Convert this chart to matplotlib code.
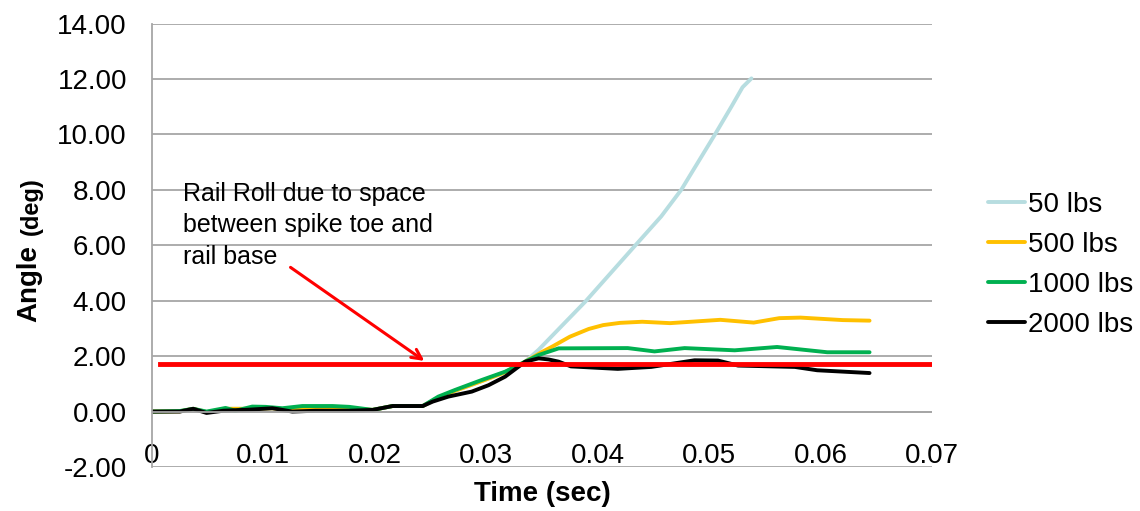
import matplotlib
matplotlib.use('Agg')
import matplotlib.pyplot as plt
from matplotlib.ticker import FuncFormatter

plt.rcParams['font.family'] = ['Liberation Sans', 'DejaVu Sans']

# time (sec) / angle (deg)
t_50 = [0, 0.0025, 0.0037, 0.0049, 0.0066, 0.0088, 0.0108, 0.0126, 0.0147, 0.0177,
        0.0198, 0.0216, 0.0243, 0.0257, 0.0272, 0.0296, 0.0317, 0.0335, 0.0347,
        0.0389, 0.0433, 0.0457, 0.0475, 0.0505, 0.0520, 0.0530, 0.0538]
a_50 = [0, 0.01, 0.1, -0.02, 0.1, 0.1, 0.12, 0.05, 0.1, 0.1,
        0.06, 0.2, 0.2, 0.5, 0.75, 1.1, 1.42, 1.8, 2.23,
        3.97, 5.96, 7.04, 8.0, 9.98, 11.0, 11.7, 12.02]

t_500 = [0, 0.0025, 0.0037, 0.0049, 0.0066, 0.0088, 0.0108, 0.0126, 0.0147, 0.0177,
         0.0198, 0.0216, 0.0243, 0.0257, 0.0272, 0.0296, 0.0317, 0.0335, 0.0350,
         0.0360, 0.0375, 0.0392, 0.0405, 0.0420, 0.0440, 0.0465, 0.0510, 0.0540,
         0.0563, 0.0582, 0.0620, 0.0644]
a_500 = [0, 0.01, 0.1, -0.02, 0.1, 0.1, 0.12, 0.05, 0.12, 0.12,
         0.06, 0.2, 0.2, 0.5, 0.75, 1.1, 1.42, 1.8, 2.15,
         2.36, 2.7, 2.98, 3.12, 3.2, 3.24, 3.19, 3.31, 3.21,
         3.37, 3.39, 3.3, 3.28]

t_1000 = [0, 0.0025, 0.0037, 0.0049, 0.0066, 0.0075, 0.009, 0.0102, 0.0117, 0.0135,
          0.0162, 0.0177, 0.0198, 0.0216, 0.0243, 0.0257, 0.0272, 0.0296, 0.0317,
          0.0335, 0.0347, 0.0365, 0.0427, 0.0451, 0.0478, 0.0523, 0.0561, 0.0606,
          0.0644]
a_1000 = [0, 0.02, 0.1, 0.0, 0.13, 0.03, 0.18, 0.17, 0.12, 0.2,
          0.2, 0.17, 0.06, 0.2, 0.2, 0.54, 0.78, 1.14, 1.44,
          1.8, 2.04, 2.28, 2.29, 2.17, 2.29, 2.21, 2.33, 2.14,
          2.14]

t_2000 = [0, 0.0025, 0.0037, 0.0049, 0.0064, 0.0088, 0.0108, 0.0126, 0.0147, 0.0177,
          0.0198, 0.0216, 0.0243, 0.0252, 0.0266, 0.0287, 0.0302, 0.0317, 0.0329,
          0.0335, 0.0347, 0.0356, 0.0365, 0.0376, 0.0418, 0.0448, 0.0487, 0.0508,
          0.0526, 0.0577, 0.0597, 0.0644]
a_2000 = [0, 0.0, 0.1, -0.05, 0.03, 0.07, 0.12, 0.0, 0.03, 0.03,
          0.06, 0.2, 0.2, 0.36, 0.54, 0.72, 0.95, 1.26, 1.62,
          1.8, 1.92, 1.88, 1.8, 1.63, 1.54, 1.61, 1.85, 1.84,
          1.66, 1.61, 1.49, 1.39]

labels = ['50 lbs', '500 lbs', '1000 lbs', '2000 lbs']
colors = ['#B7DDE0', '#FFC000', '#00B050', '#000000']

roll_level = 1.72
note = 'Rail Roll due to space\nbetween spike toe and\nrail base'

fig = plt.figure(figsize=(11.4, 5.11), dpi=100)
ax = fig.add_axes([0.1333, 0.0861, 0.6842, 0.8679])

series = [(t_50, a_50), (t_500, a_500), (t_1000, a_1000), (t_2000, a_2000)]
for (t, a), lab, c in zip(series, labels, colors):
    ax.plot(t, a, color=c, lw=2.8, label=lab, solid_capstyle='round',
            solid_joinstyle='round')

ax.plot([0.0007, 0.07], [roll_level, roll_level], color='#FF0000', lw=3.5, zorder=5)
ax.annotate('', xy=(0.02465, 1.77), xytext=(0.01223, 5.26),
            arrowprops=dict(arrowstyle='->,head_length=0.7,head_width=0.35',
                            color='#FF0000', lw=2.2), zorder=6)
ax.text(0.00278, 8.3, note, fontsize=18, va='top', ha='left', linespacing=1.4)

ax.set_xlim(0, 0.07)
ax.set_ylim(-2, 14)
ax.set_yticks(range(-2, 15, 2))
ax.set_xticks([0, 0.01, 0.02, 0.03, 0.04, 0.05, 0.06, 0.07])
ax.yaxis.set_major_formatter(FuncFormatter(lambda v, p: '%.2f' % v))
ax.xaxis.set_major_formatter(FuncFormatter(lambda v, p: '%g' % v))
ax.grid(axis='y', color='#A6A6A6', lw=1.3)
ax.axhline(0, color='#A6A6A6', lw=1.3)
ax.set_axisbelow(True)
for s in ['top', 'right', 'bottom']:
    ax.spines[s].set_visible(False)
ax.spines['left'].set_color('#A6A6A6')
ax.spines['left'].set_linewidth(1.3)
ax.tick_params(axis='y', length=0, pad=18, labelsize=20)
ax.tick_params(axis='x', length=0, pad=-17, labelsize=20)

ax.set_xlabel('Time (sec)', fontsize=20, fontweight='bold', labelpad=8)
fig.text(29 / 1140, 1 - 284 / 511, 'Angle', rotation=90, fontsize=20,
         fontweight='bold', ha='center', va='center')
fig.text(31 / 1140, 1 - 206 / 511, '(deg)', rotation=90, fontsize=17,
         fontweight='bold', ha='center', va='center')

ax.legend(loc='center left', bbox_to_anchor=(0.8667, 0.4814),
          bbox_transform=fig.transFigure, frameon=False, fontsize=20,
          handlelength=1.33, handletextpad=0.1, labelspacing=0.5,
          borderpad=0, borderaxespad=0)

fig.savefig('out.png', dpi=100)
